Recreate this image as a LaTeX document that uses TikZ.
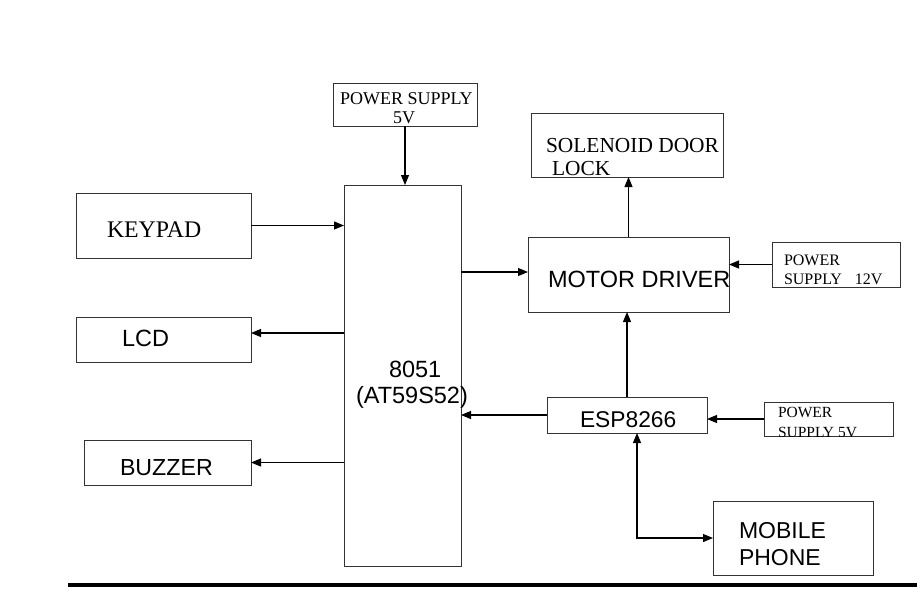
\documentclass[tikz,border=0pt]{standalone}
\usepackage{fontspec}
\setmainfont{Liberation Serif}
\newfontfamily\arialf{Liberation Sans}
\usetikzlibrary{arrows.meta}
\newcommand{\bx}[5]{\node[box,minimum width={#4-#2},minimum height={#5-#3}] (#1) at ({(#2+#4)/2},{(#3+#5)/2}) {};}
\newcommand{\fs}[1]{\fontsize{#1}{#1}\selectfont}
\begin{document}
\begin{tikzpicture}[x=1pt,y=-1pt,
  box/.style={draw=black!80,line width=0.9pt,inner sep=0pt,outer sep=0pt},
  arr/.style={line width=1.1pt,-{Triangle[length=10pt,width=8pt]}},
  darr/.style={line width=1.1pt,{Triangle[length=10pt,width=8pt]}-{Triangle[length=10pt,width=8pt]}},
  lbl/.style={anchor=base west,inner sep=0pt,outer sep=0pt}]
\useasboundingbox (0,0) rectangle (917,608);
% boxes
\bx{ps}{333}{83}{477}{126}
\bx{main}{344}{185}{461}{566}
\bx{keypad}{76}{193}{251}{258}
\bx{lcd}{76}{317}{251}{362}
\bx{buzzer}{84}{440}{251}{485}
\bx{sol}{531}{113}{723}{177}
\bx{md}{528}{237}{729}{312}
\bx{psb}{772}{242}{900}{287}
\bx{esp}{547}{397}{707}{433}
\bx{psc}{764}{402}{893}{436}
\bx{mob}{713}{501}{873}{575}
% texts
\node[lbl,font=\fs{18}] (tps1) at (340,104) {POWER SUPPLY};
\node[lbl,font=\fs{18}] (tps2) at (393,123) {5V};
\node[lbl,font=\fs{23.8}] (tkey) at (107,237) {KEYPAD};
\node[lbl,font=\arialf\fs{23.5}] (tlcd) at (122,346) {LCD};
\node[lbl,font=\arialf\fs{23.2}] (tbuz) at (120,475) {BUZZER};
\node[lbl,font=\arialf\fs{23.5}] (tm1) at (389,377) {8051};
\node[lbl,font=\arialf\fs{23.5}] (tm2) at (356,403) {(AT59S52)};
\node[lbl,font=\fs{21.4}] (ts1) at (546,152) {SOLENOID DOOR};
\node[lbl,font=\fs{21.4}] (ts2) at (552,175) {LOCK};
\node[lbl,font=\arialf\fs{23.5}] (tmd) at (548,287) {MOTOR DRIVER};
\node[lbl,font=\fs{16}] (tpb1) at (784,265.5) {POWER};
\node[lbl,font=\fs{16}] (tpb2) at (784,284) {SUPPLY\hspace{13pt}12V};
\begin{scope}
\clip (psc.south west) rectangle (psc.north east);
\node[lbl,font=\fs{15.5}] (tpc1) at (778,417) {POWER};
\node[lbl,font=\fs{15.5}] (tpc2) at (778,437) {SUPPLY 5V};
\end{scope}
\node[lbl,font=\arialf\fs{22.8}] (tesp) at (580,427) {ESP8266};
\node[lbl,font=\arialf\fs{23}] (tmo1) at (739,538) {MOBILE};
\node[lbl,font=\arialf\fs{23}] (tmo2) at (739,565) {PHONE};
% connectors
\draw[arr] (ps.south) -- (ps.south |- main.north);
\draw[arr] (keypad.east) -- (keypad.east -| main.west);
\draw[arr] (main.west |- 0,333) -- (lcd.east |- 0,333);
\draw[arr] (main.west |- buzzer.east) -- (buzzer.east);
\draw[arr] (main.east |- 0,272) -- (md.west |- 0,272);
\draw[arr] (md.north) -- (md.north |- sol.south);
\draw[arr] (psb.west) -- (psb.west -| md.east);
\draw[arr] (esp.north) -- (esp.north |- md.south);
\draw[arr] (esp.west) -- (esp.west -| main.east);
\draw[arr] (psc.west) -- (psc.west -| esp.east);
\draw[darr] (esp.south -| 637,0) |- (mob.west);
% bottom rule
\draw[line width=4pt] (68,585) -- (917,585);
\end{tikzpicture}
\end{document}
